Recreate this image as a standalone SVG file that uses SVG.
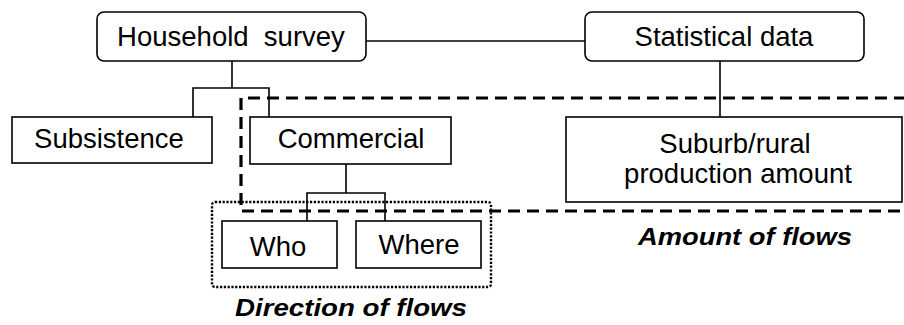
<svg xmlns="http://www.w3.org/2000/svg" width="904" height="325" viewBox="0 0 904 325">
<style>
.box{fill:#fff;stroke:#000;stroke-width:1.6}
.t{font-family:"Liberation Sans",Arial,sans-serif;font-size:27.5px;fill:#000;text-anchor:middle}
.lbl{font-family:"Liberation Sans",Arial,sans-serif;font-size:23px;font-weight:bold;font-style:italic;fill:#000}
.c{fill:none;stroke:#000;stroke-width:1.6}
</style>
<rect width="904" height="325" fill="#fff"/>
<g id="connectors">
<path class="c" d="M366,41 H585"/>
<path class="c" d="M720,61 V117"/>
<path class="c" d="M232,61 V88 M193,117 V88 H269 V117"/>
<path class="c" d="M346,164 V193 M307,221 V193 H385 V221"/>
</g>
<g id="household"><rect class="box" x="97" y="12" width="269" height="49" rx="7"/><text class="t" x="231" y="46" xml:space="preserve">Household  survey</text></g>
<g id="statistical"><rect class="box" x="585" y="12" width="279" height="49" rx="7"/><text class="t" x="724" y="46">Statistical data</text></g>
<g id="subsistence"><rect class="box" x="12" y="117" width="200" height="46"/><text class="t" x="109" y="148">Subsistence</text></g>
<g id="commercial"><rect class="box" x="250" y="117" width="201" height="47"/><text class="t" x="351" y="148">Commercial</text></g>
<g id="suburb"><rect class="box" x="566" y="117" width="336" height="85"/><text class="t" x="735" y="153">Suburb/rural</text><text class="t" x="738" y="183">production amount</text></g>
<g id="who"><rect class="box" x="222" y="221" width="115" height="47"/><text class="t" x="278" y="256">Who</text></g>
<g id="where"><rect class="box" x="356" y="221" width="125" height="47"/><text class="t" x="419" y="254">Where</text></g>
<g id="amount-region"><path d="M906,98 H241 V211 H906" fill="none" stroke="#000" stroke-width="3.2" stroke-dasharray="12,7"/><text class="lbl" x="638" y="245" textLength="214" lengthAdjust="spacingAndGlyphs">Amount of flows</text></g>
<g id="direction-region"><rect x="212" y="202" width="279" height="85" rx="3" fill="none" stroke="#000" stroke-width="2.4" stroke-dasharray="2.2,1.6"/><text class="lbl" x="235" y="316" textLength="232" lengthAdjust="spacingAndGlyphs">Direction of flows</text></g>
</svg>
